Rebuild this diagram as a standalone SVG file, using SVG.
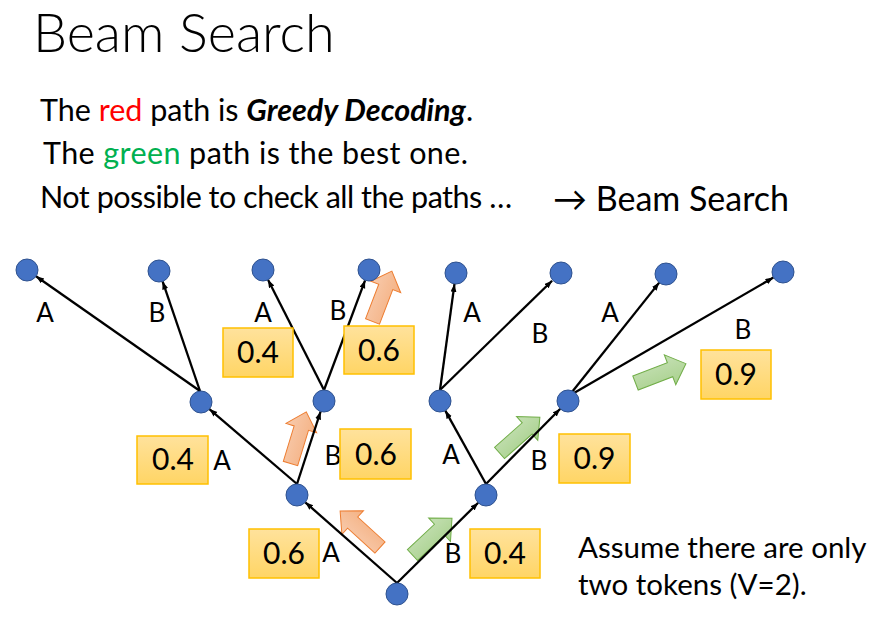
<svg xmlns="http://www.w3.org/2000/svg" width="890" height="625" viewBox="0 0 890 625">
<defs>
<style>
.t{font-family:Lato,"Liberation Sans",sans-serif;fill:#000}
.title{font-size:54px;font-weight:300}
.line{font-size:30.5px}
.lbl{font-size:26px;text-anchor:middle}
.num{font-size:30px;text-anchor:middle}
.node{fill:#4472C4;stroke:#2F528F;stroke-width:1}
.edge{stroke:#000;stroke-width:2.3;fill:none;marker-end:url(#ah)}
.box{fill:url(#gy);stroke:#FFC000;stroke-width:1.5}
.ora{fill:url(#go);stroke:#ED7D31;stroke-width:1}
.grn{fill:url(#gg);stroke:#70AD47;stroke-width:1}
</style>
<linearGradient id="gy" x1="0" y1="0" x2="0" y2="1"><stop offset="0" stop-color="#FFE29C"/><stop offset="1" stop-color="#FFD565"/></linearGradient>
<linearGradient id="go" x1="0" y1="0" x2="0" y2="1"><stop offset="0" stop-color="#F8CBAD"/><stop offset="1" stop-color="#F4B183"/></linearGradient>
<linearGradient id="gg" x1="0" y1="0" x2="0" y2="1"><stop offset="0" stop-color="#C5E0B4"/><stop offset="1" stop-color="#A9D18E"/></linearGradient>
<marker id="ah" markerUnits="userSpaceOnUse" markerWidth="9" markerHeight="7" refX="8" refY="3" orient="auto"><path d="M0,0 L8,3 L0,6 Z" fill="#000"/></marker>
<path id="blk" d="M0,-7.5 L37,-7.5 L37,-16 L54,0 L37,16 L37,7.5 L0,7.5 Z"/>
</defs>

<rect width="890" height="625" fill="#fff"/>

<text class="t title" x="33" y="52">Beam Search</text>
<text class="t line" x="40" y="121">The <tspan fill="#FF0000">red</tspan> path is <tspan font-weight="bold" font-style="italic">Greedy Decoding</tspan>.</text>
<text class="t line" x="43" y="164" textLength="425" lengthAdjust="spacing">The <tspan fill="#00B050">green</tspan> path is the best one.</text>
<text class="t line" x="40" y="208" textLength="472" lengthAdjust="spacing">Not possible to check all the paths …</text>
<text class="t" x="553" y="211" font-size="34">→ Beam Search</text>
<text class="t" x="578" y="558" font-size="29.5">Assume there are only</text>
<text class="t" x="578" y="595" font-size="29.5">two tokens (V=2).</text>

<g id="path-arrows">
<use href="#blk" class="ora" transform="translate(380,547.5) rotate(-137.6)"/>
<use href="#blk" class="ora" transform="translate(290.5,463.5) rotate(-73)"/>
<use href="#blk" class="ora" transform="translate(372.5,321.5) rotate(-69)"/>
<use href="#blk" class="grn" transform="translate(412.5,555) rotate(-43)"/>
<use href="#blk" class="grn" transform="translate(499.5,453) rotate(-41.6)"/>
<use href="#blk" class="grn" transform="translate(635.5,383) rotate(-21)"/>
</g>

<g id="connectors">
<line class="edge" x1="397" y1="583" x2="305.3" y2="502.3"/>
<line class="edge" x1="397" y1="583" x2="478.2" y2="502.7"/>
<line class="edge" x1="297" y1="484" x2="209.4" y2="409.1"/>
<line class="edge" x1="297" y1="484" x2="320.6" y2="411.5"/>
<line class="edge" x1="486" y1="484" x2="445.3" y2="410.6"/>
<line class="edge" x1="486" y1="484" x2="560.3" y2="408.8"/>
<line class="edge" x1="200" y1="391" x2="36" y2="276.3"/>
<line class="edge" x1="200" y1="391" x2="162.6" y2="281.4"/>
<line class="edge" x1="324" y1="390" x2="268" y2="279.8"/>
<line class="edge" x1="324" y1="390" x2="365.1" y2="280.3"/>
<line class="edge" x1="440" y1="390" x2="454.5" y2="283.9"/>
<line class="edge" x1="440" y1="390" x2="552.1" y2="280.7"/>
<line class="edge" x1="572" y1="392" x2="659.2" y2="282.6"/>
<line class="edge" x1="574" y1="393" x2="773.4" y2="277.6"/>
</g>

<g id="root"><circle class="node" cx="397" cy="594" r="11"/></g>
<g id="n-A"><circle class="node" cx="297" cy="495" r="11"/></g>
<g id="n-B"><circle class="node" cx="486" cy="495" r="11"/></g>
<g id="n-AA"><circle class="node" cx="201" cy="402" r="11"/></g>
<g id="n-AB"><circle class="node" cx="324" cy="401" r="11"/></g>
<g id="n-BA"><circle class="node" cx="440" cy="401" r="11"/></g>
<g id="n-BB"><circle class="node" cx="568" cy="401" r="11"/></g>
<g id="n-AAA"><circle class="node" cx="27" cy="270" r="11"/></g>
<g id="n-AAB"><circle class="node" cx="159" cy="271" r="11"/></g>
<g id="n-ABA"><circle class="node" cx="263" cy="270" r="11"/></g>
<g id="n-ABB"><circle class="node" cx="369" cy="270" r="11"/></g>
<g id="n-BAA"><circle class="node" cx="456" cy="273" r="11"/></g>
<g id="n-BAB"><circle class="node" cx="561" cy="273" r="11"/></g>
<g id="n-BBA"><circle class="node" cx="666" cy="274" r="11"/></g>
<g id="n-BBB"><circle class="node" cx="783" cy="272" r="11"/></g>

<g id="edge-labels">
<text class="t lbl" x="45" y="322">A</text>
<text class="t lbl" x="157" y="322">B</text>
<text class="t lbl" x="263" y="322">A</text>
<text class="t lbl" x="338" y="320">B</text>
<text class="t lbl" x="472" y="322">A</text>
<text class="t lbl" x="540" y="343">B</text>
<text class="t lbl" x="610" y="322">A</text>
<text class="t lbl" x="743" y="339">B</text>
<text class="t lbl" x="222" y="470">A</text>
<text class="t lbl" x="333" y="465">B</text>
<text class="t lbl" x="451" y="464">A</text>
<text class="t lbl" x="539" y="470">B</text>
<text class="t lbl" x="331" y="562">A</text>
<text class="t lbl" x="453" y="563">B</text>
</g>

<g id="prob-ABA"><rect class="box" x="223" y="328" width="70" height="49"/><text class="t num" x="258" y="363">0.4</text></g>
<g id="prob-ABB"><rect class="box" x="344" y="326" width="70" height="48"/><text class="t num" x="379" y="361">0.6</text></g>
<g id="prob-AA"><rect class="box" x="137" y="436" width="71" height="48"/><text class="t num" x="173" y="470">0.4</text></g>
<g id="prob-AB"><rect class="box" x="340" y="429" width="71" height="50"/><text class="t num" x="376" y="465">0.6</text></g>
<g id="prob-A"><rect class="box" x="249" y="529" width="70" height="49"/><text class="t num" x="284" y="564">0.6</text></g>
<g id="prob-B"><rect class="box" x="470" y="529" width="70" height="49"/><text class="t num" x="505" y="564">0.4</text></g>
<g id="prob-BB"><rect class="box" x="559" y="434" width="71" height="49"/><text class="t num" x="594.5" y="469">0.9</text></g>
<g id="prob-BBB"><rect class="box" x="701" y="350" width="70" height="49"/><text class="t num" x="736" y="385">0.9</text></g>
</svg>
